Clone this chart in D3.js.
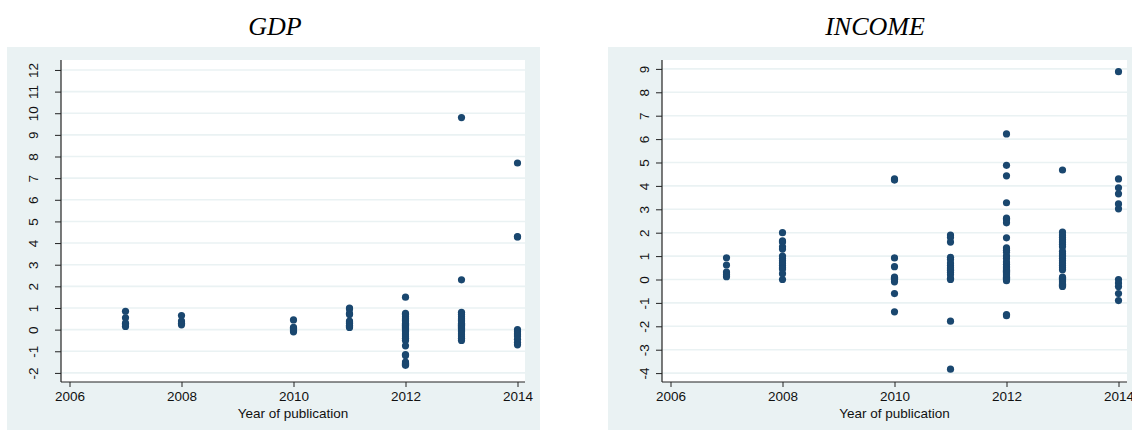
<!DOCTYPE html>
<html>
<head>
<meta charset="utf-8">
<script src="https://cdn.jsdelivr.net/npm/d3@7"></script>
<style>
  html, body { margin: 0; padding: 0; background: #ffffff; }
  svg { display: block; }
  .tick text { font-family: "Liberation Sans", Arial, sans-serif; }
</style>
</head>
<body>
<svg id="chart" width="1132" height="430"></svg>
<script>
// Estimated effects by year of publication, GDP panel
const gdp2007 = [0.85, 0.55, 0.3, 0.22, 0.15];
const gdp2008 = [0.65, 0.4, 0.3, 0.22];
const gdp2010 = [0.45, 0.1, 0.05, 0.0, -0.05, -0.1];
const gdp2011 = [1.0, 0.95, 0.75, 0.7, 0.4, 0.35, 0.3, 0.2, 0.15, 0.1];
const gdp2012 = [1.5, 0.75, 0.7, 0.6, 0.5, 0.45, 0.4, 0.3, 0.25, 0.2, 0.15, 0.1, 0.05, 0.0,
                 -0.05, -0.1, -0.2, -0.3, -0.4, -0.5, -0.75, -1.15, -1.2, -1.5, -1.55, -1.6, -1.65];
const gdp2013 = [9.8, 2.3, 0.8, 0.7, 0.6, 0.5, 0.45, 0.4, 0.3, 0.25, 0.2, 0.15, 0.1, 0.05, 0.0,
                 -0.05, -0.1, -0.2, -0.3, -0.4, -0.5];
const gdp2014 = [7.7, 4.3, 4.28, 0.0, -0.1, -0.2, -0.3, -0.45, -0.6, -0.7];

// INCOME panel
const inc2007 = [0.93, 0.62, 0.32, 0.2, 0.12];
const inc2008 = [2.0, 1.65, 1.6, 1.4, 1.3, 1.0, 0.9, 0.8, 0.7, 0.6, 0.5, 0.45, 0.25, 0.0];
const inc2010 = [4.3, 4.25, 0.92, 0.55, 0.1, 0.05, 0.0, -0.1, -0.6, -1.38];
const inc2011 = [1.9, 1.8, 1.6, 0.95, 0.85, 0.7, 0.6, 0.5, 0.45, 0.4, 0.3, 0.2, 0.05, 0.0, -1.78, -3.83];
const inc2012 = [6.22, 4.88, 4.43, 3.28, 2.62, 2.55, 2.42, 1.78, 1.35, 1.25, 1.15, 1.0, 0.9, 0.75,
                 0.65, 0.55, 0.5, 0.45, 0.4, 0.35, 0.3, 0.25, 0.2, 0.15, 0.1, 0.05, 0.0, -0.05, -1.5, -1.55];
const inc2013 = [4.68, 2.03, 1.9, 1.8, 1.7, 1.6, 1.5, 1.4, 1.2, 1.1, 1.0, 0.9, 0.8, 0.7, 0.6, 0.5, 0.42,
                 0.1, 0.05, 0.0, -0.05, -0.1, -0.15, -0.2, -0.25, -0.3];
const inc2014 = [8.88, 4.3, 3.92, 3.66, 3.23, 3.02, 0.0, -0.15, -0.3, -0.6, -0.9];

const years = [2007, 2008, 2010, 2011, 2012, 2013, 2014];
const xTickValues = [2006, 2008, 2010, 2012, 2014];
const gdpTicks = [-2, -1, 0, 1, 2, 3, 4, 5, 6, 7, 8, 9, 10, 11, 12];
const incomeTicks = [-4, -3, -2, -1, 0, 1, 2, 3, 4, 5, 6, 7, 8, 9];
const xAxisTitle = "Year of publication";

function pairs(yearList, groups) {
  const out = [];
  yearList.forEach((yr, i) => groups[i].forEach(v => out.push({ year: yr, value: v })));
  return out;
}

const panels = [
  {
    title: "GDP",
    points: pairs(years, [gdp2007, gdp2008, gdp2010, gdp2011, gdp2012, gdp2013, gdp2014]),
    yTicks: gdpTicks,
    yDomain: [-2.42, 12.46],
    bg: { x: 7, y: 47, w: 533, h: 383 },
    plot: { left: 61, right: 525, top: 60, bottom: 382 },
    labelGap: 17,
    titleX: 275
  },
  {
    title: "INCOME",
    points: pairs(years, [inc2007, inc2008, inc2010, inc2011, inc2012, inc2013, inc2014]),
    yTicks: incomeTicks,
    yDomain: [-4.38, 9.38],
    bg: { x: 608, y: 47, w: 524, h: 383 },
    plot: { left: 662, right: 1127, top: 60, bottom: 382 },
    labelGap: 7,
    titleX: 875
  }
];

const svg = d3.select("#chart");
const navy = "#1a476f";
const outerBg = "#eaf2f3";
const gridColor = "#eaf2f3";
const plainInt = d => String(d);   // hyphen-minus, as Stata prints it

panels.forEach(p => {
  const g = svg.append("g");

  g.append("rect")
    .attr("x", p.bg.x).attr("y", p.bg.y)
    .attr("width", p.bg.w).attr("height", p.bg.h)
    .attr("fill", outerBg);

  g.append("rect")
    .attr("x", p.plot.left).attr("y", p.plot.top)
    .attr("width", p.plot.right - p.plot.left)
    .attr("height", p.plot.bottom - p.plot.top)
    .attr("fill", "#ffffff");

  // 56 px per year, 2006 sits just right of the y axis
  const x = d3.scaleLinear()
    .domain([2006 - 8.5 / 56, 2006 + (p.plot.right - p.plot.left - 8.5) / 56])
    .range([p.plot.left, p.plot.right]);

  const y = d3.scaleLinear().domain(p.yDomain).range([p.plot.bottom, p.plot.top]);

  // horizontal grid
  g.append("g")
    .selectAll("line")
    .data(p.yTicks)
    .join("line")
    .attr("x1", p.plot.left).attr("x2", p.plot.right)
    .attr("y1", d => y(d)).attr("y2", d => y(d))
    .attr("stroke", gridColor)
    .attr("stroke-width", 1.6);

  // y axis
  const yAxis = d3.axisLeft(y).tickValues(p.yTicks).tickFormat(plainInt)
    .tickSize(6).tickPadding(p.labelGap);
  const ya = g.append("g")
    .attr("transform", `translate(${p.plot.left},0)`)
    .call(yAxis);
  ya.select(".domain")
    .attr("d", `M0,${p.plot.top}V${p.plot.bottom}`)
    .attr("stroke", "#222").attr("stroke-width", 1.2);
  ya.selectAll(".tick line").attr("stroke", "#222").attr("stroke-width", 1);
  ya.selectAll(".tick text")
    .attr("font-size", 13.5)
    .attr("fill", "#111")
    .attr("x", null)
    .attr("text-anchor", "middle")
    .attr("transform", `translate(${-6 - p.labelGap},0) rotate(-90)`)
    .attr("dy", "0em");

  // x axis
  const xAxis = d3.axisBottom(x).tickValues(xTickValues).tickFormat(plainInt)
    .tickSize(5).tickPadding(4);
  const xa = g.append("g")
    .attr("transform", `translate(0,${p.plot.bottom})`)
    .call(xAxis);
  xa.select(".domain")
    .attr("d", `M${p.plot.left},0H${p.plot.right}`)
    .attr("stroke", "#222").attr("stroke-width", 1.2);
  xa.selectAll(".tick line").attr("stroke", "#222").attr("stroke-width", 1);
  xa.selectAll(".tick text").attr("font-size", 13.5).attr("fill", "#111");

  // axis title
  g.append("text")
    .attr("x", (p.plot.left + p.plot.right) / 2)
    .attr("y", 418)
    .attr("text-anchor", "middle")
    .attr("font-family", "'Liberation Sans', Arial, sans-serif")
    .attr("font-size", 13.5)
    .attr("fill", "#111")
    .text(xAxisTitle);

  // points
  g.append("g")
    .selectAll("circle")
    .data(p.points)
    .join("circle")
    .attr("cx", d => x(d.year))
    .attr("cy", d => y(d.value))
    .attr("r", 3.6)
    .attr("fill", navy);

  // panel title
  svg.append("text")
    .attr("x", p.titleX)
    .attr("y", 35)
    .attr("text-anchor", "middle")
    .attr("font-family", "'Liberation Serif', 'DejaVu Serif', serif")
    .attr("font-style", "italic")
    .attr("font-size", 26)
    .attr("fill", "#000")
    .text(p.title);
});
</script>
</body>
</html>
